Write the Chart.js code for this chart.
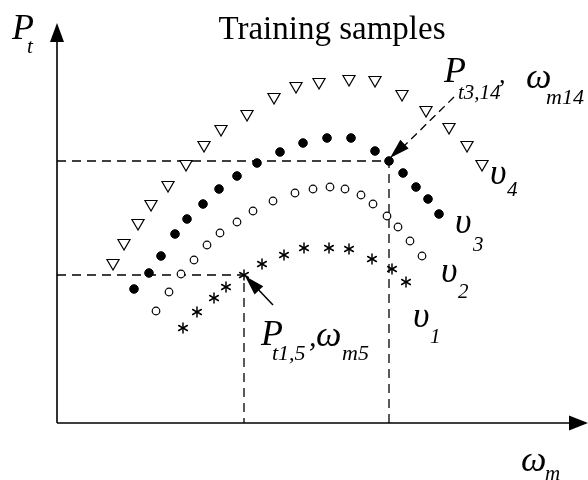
<!DOCTYPE html>
<html>
<head>
<meta charset="utf-8">
<script src="https://cdn.jsdelivr.net/npm/chart.js@4.4.1/dist/chart.umd.min.js"></script>
<style>
  html, body { margin: 0; padding: 0; background: #fff; }
  canvas { display: block; }
</style>
</head>
<body>
<canvas id="samples" width="588" height="480"></canvas>
<script>
// Training samples for four speeds (v1..v4): omega_m on x, P_t on y
const omegaV1 = [126, 140, 157, 169, 187, 205, 227, 247, 272, 292, 315, 335, 349];
const powerV1 = [95, 111, 125, 136, 148, 159, 168, 175, 175, 174, 164, 154, 141];

const omegaV2 = [99, 112, 124, 137, 150, 163, 180, 196, 216, 238, 256, 273, 288, 304, 316, 330, 341, 353, 365];
const powerV2 = [112, 131, 149, 163, 178, 190, 201, 212, 222, 230, 234, 236, 234, 228, 219, 207, 196, 182, 167];

const omegaV3 = [77, 92, 104, 118, 130, 146, 162, 180, 200, 223, 246, 270, 294, 318, 332, 346, 359, 371, 382];
const powerV3 = [134, 150, 167, 189, 204, 219, 234, 247, 260, 271, 280, 285, 285, 272, 262, 250, 236, 224, 209];

const omegaV4 = [56, 67, 81, 94, 111, 129, 147, 164, 190, 217, 239, 262, 292, 318, 345, 369, 392, 410, 425];
const powerV4 = [160, 180, 200, 219, 238, 259, 278, 294, 309, 326, 337, 341, 344, 343, 329, 313, 296, 278, 259];

// highlighted samples: 5th of v1 and 15th of v3
const markV1 = 4;
const markV3 = 14;

const serif = '"Liberation Serif", "Times New Roman", serif';

function toPoints(xs, ys) {
  return xs.map((x, i) => ({ x: x, y: ys[i] }));
}

// six-spoke asterisk marker
function makeAsterisk() {
  const c = document.createElement("canvas");
  c.width = 12;
  c.height = 12;
  const g = c.getContext("2d");
  g.strokeStyle = "#000";
  g.lineWidth = 1.5;
  g.lineCap = "round";
  for (let k = 0; k < 3; k++) {
    const a = Math.PI / 2 + k * Math.PI / 3;
    g.beginPath();
    g.moveTo(6 - Math.cos(a) * 5, 6 - Math.sin(a) * 5);
    g.lineTo(6 + Math.cos(a) * 5, 6 + Math.sin(a) * 5);
    g.stroke();
  }
  return c;
}

function arrowHead(ctx, x0, y0, x1, y1, len, half) {
  const a = Math.atan2(y1 - y0, x1 - x0);
  ctx.beginPath();
  ctx.moveTo(x1, y1);
  ctx.lineTo(x1 - len * Math.cos(a) + half * Math.sin(a), y1 - len * Math.sin(a) - half * Math.cos(a));
  ctx.lineTo(x1 - len * Math.cos(a) - half * Math.sin(a), y1 - len * Math.sin(a) + half * Math.cos(a));
  ctx.closePath();
  ctx.fill();
}

function txt(ctx, s, x, y, size, italic) {
  ctx.font = (italic ? "italic " : "") + size + "px " + serif;
  ctx.fillText(s, x, y);
}

const overlay = {
  id: "overlay",
  beforeDatasetsDraw(chart) {
    const { ctx, chartArea: a, scales } = chart;
    const xs = scales.x, ys = scales.y;
    ctx.save();
    ctx.strokeStyle = "#000";
    ctx.fillStyle = "#000";

    // guide lines to the highlighted samples
    ctx.lineWidth = 1.3;
    ctx.setLineDash([9, 6]);
    [[omegaV1[markV1], powerV1[markV1]], [omegaV3[markV3], powerV3[markV3]]].forEach(([wx, py]) => {
      const px = xs.getPixelForValue(wx);
      const pyy = ys.getPixelForValue(py);
      ctx.beginPath();
      ctx.moveTo(a.left, pyy);
      ctx.lineTo(px, pyy);
      ctx.lineTo(px, a.bottom);
      ctx.stroke();
    });
    ctx.setLineDash([]);

    // axes with arrows
    ctx.lineWidth = 1.6;
    ctx.beginPath();
    ctx.moveTo(a.left, a.bottom);
    ctx.lineTo(a.left, a.top + 15);
    ctx.moveTo(a.left, a.bottom);
    ctx.lineTo(a.right - 15, a.bottom);
    ctx.stroke();
    arrowHead(ctx, a.left, a.bottom, a.left, a.top, 19, 7);
    arrowHead(ctx, a.left, a.bottom, a.right, a.bottom, 19, 7.5);
    ctx.restore();
  },
  afterDatasetsDraw(chart) {
    const { ctx, scales } = chart;
    const xs = scales.x, ys = scales.y;
    ctx.save();
    ctx.strokeStyle = "#000";
    ctx.fillStyle = "#000";

    // pointer to sample 14 of v3 (dashed)
    const p3x = xs.getPixelForValue(omegaV3[markV3]);
    const p3y = ys.getPixelForValue(powerV3[markV3]);
    ctx.lineWidth = 1.3;
    ctx.setLineDash([8, 5]);
    ctx.beginPath();
    ctx.moveTo(p3x + 65, p3y - 64);
    ctx.lineTo(p3x + 12, p3y - 12);
    ctx.stroke();
    ctx.setLineDash([]);
    arrowHead(ctx, p3x + 65, p3y - 64, p3x + 1, p3y - 3, 20, 6);

    // pointer to sample 5 of v1 (solid)
    const p1x = xs.getPixelForValue(omegaV1[markV1]);
    const p1y = ys.getPixelForValue(powerV1[markV1]);
    ctx.lineWidth = 1.5;
    ctx.beginPath();
    ctx.moveTo(p1x + 29, p1y + 30);
    ctx.lineTo(p1x + 10, p1y + 10);
    ctx.stroke();
    arrowHead(ctx, p1x + 29, p1y + 30, p1x + 1, p1y + 1, 20, 6);

    // texts
    ctx.textBaseline = "alphabetic";
    ctx.textAlign = "center";
    txt(ctx, "Training samples", 332, 39, 33, false);
    ctx.textAlign = "left";

    txt(ctx, "P", 12, 39, 36, true);
    txt(ctx, "t", 27, 53, 21, true);

    txt(ctx, "ω", 521, 471, 36, true);
    txt(ctx, "m", 545, 480, 21, true);

    txt(ctx, "υ", 490, 184, 36, true);
    txt(ctx, "4", 507, 196, 21, true);
    txt(ctx, "υ", 455, 233, 36, true);
    txt(ctx, "3", 473, 251, 21, true);
    txt(ctx, "υ", 441, 282, 36, true);
    txt(ctx, "2", 458, 298, 21, true);
    txt(ctx, "υ", 413, 327, 36, true);
    txt(ctx, "1", 430, 343, 21, true);

    txt(ctx, "P", 261, 345, 36, true);
    txt(ctx, "t1,5", 272, 360, 22, true);
    txt(ctx, ",", 309, 346, 30, true);
    txt(ctx, "ω", 316, 346, 36, true);
    txt(ctx, "m5", 342, 360, 22, true);

    txt(ctx, "P", 444, 82, 36, true);
    txt(ctx, "t3,14", 458, 99, 21, true);
    txt(ctx, "’", 496, 97, 26, true);
    txt(ctx, "ω", 526, 88, 36, true);
    txt(ctx, "m14", 546, 104, 22, true);
    ctx.restore();
  }
};

const base = { showLine: false, borderColor: "#000", clip: false };

new Chart(document.getElementById("samples").getContext("2d"), {
  type: "scatter",
  data: {
    datasets: [
      Object.assign({}, base, {
        label: "v4",
        data: toPoints(omegaV4, powerV4),
        pointStyle: "triangle",
        rotation: 180,
        pointRadius: 7,
        borderWidth: 1.2,
        backgroundColor: "#fff"
      }),
      Object.assign({}, base, {
        label: "v3",
        data: toPoints(omegaV3, powerV3),
        pointStyle: "circle",
        pointRadius: 4.3,
        borderWidth: 1,
        backgroundColor: "#000"
      }),
      Object.assign({}, base, {
        label: "v2",
        data: toPoints(omegaV2, powerV2),
        pointStyle: "circle",
        pointRadius: 3.8,
        borderWidth: 1.2,
        backgroundColor: "#fff"
      }),
      Object.assign({}, base, {
        label: "v1",
        data: toPoints(omegaV1, powerV1),
        pointStyle: makeAsterisk(),
        pointRadius: 6,
        borderWidth: 0
      })
    ]
  },
  options: {
    responsive: false,
    animation: false,
    devicePixelRatio: 1,
    layout: { autoPadding: false, padding: { left: 57, top: 23, right: 0, bottom: 57 } },
    plugins: {
      legend: { display: false },
      tooltip: { enabled: false }
    },
    scales: {
      x: { type: "linear", min: 0, max: 531, display: false },
      y: { type: "linear", min: 0, max: 400, display: false }
    }
  },
  plugins: [overlay]
});
</script>
</body>
</html>
